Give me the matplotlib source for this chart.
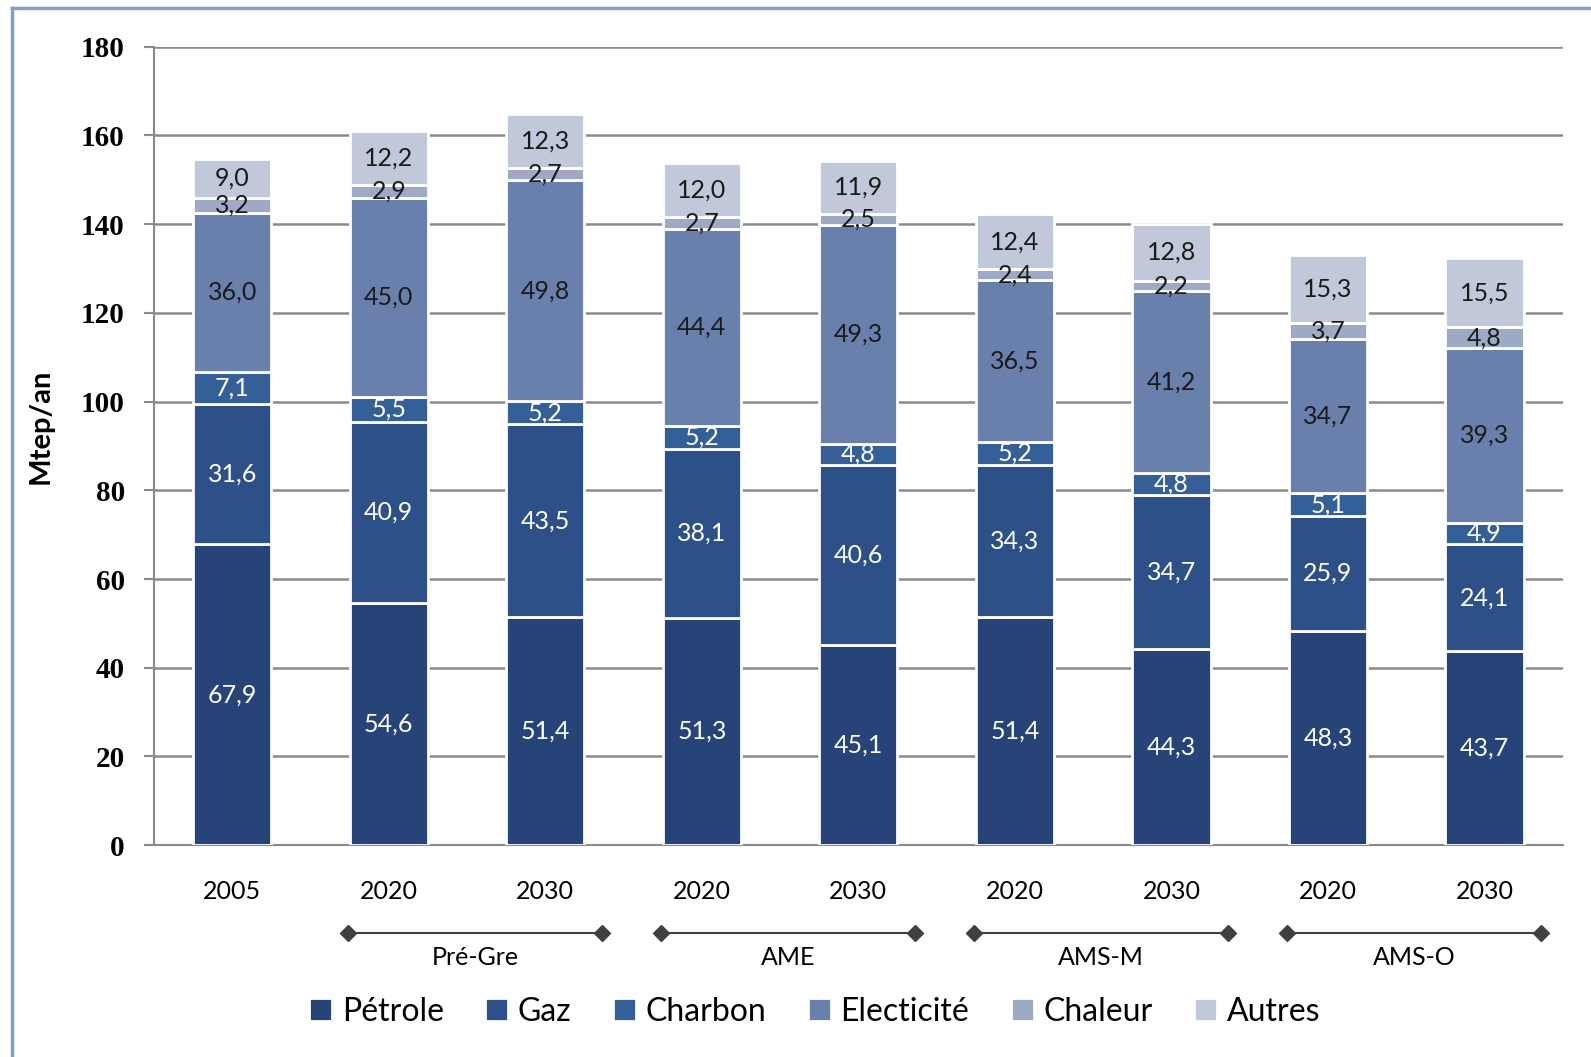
import matplotlib
matplotlib.use("Agg")
import matplotlib.pyplot as plt
from matplotlib.lines import Line2D
import numpy as np

plt.rcParams['font.family'] = ['Lato', 'DejaVu Sans']

years = ["2005", "2020", "2030", "2020", "2030", "2020", "2030", "2020", "2030"]
groups = ["Pré-Gre", "AME", "AMS-M", "AMS-O"]
group_bars = [(1, 2), (3, 4), (5, 6), (7, 8)]
series = ["Pétrole", "Gaz", "Charbon", "Electicité", "Chaleur", "Autres"]
petrole = [67.9, 54.6, 51.4, 51.3, 45.1, 51.4, 44.3, 48.3, 43.7]
gaz = [31.6, 40.9, 43.5, 38.1, 40.6, 34.3, 34.7, 25.9, 24.1]
charbon = [7.1, 5.5, 5.2, 5.2, 4.8, 5.2, 4.8, 5.1, 4.9]
electricite = [36.0, 45.0, 49.8, 44.4, 49.3, 36.5, 41.2, 34.7, 39.3]
chaleur = [3.2, 2.9, 2.7, 2.7, 2.5, 2.4, 2.2, 3.7, 4.8]
autres = [9.0, 12.2, 12.3, 12.0, 11.9, 12.4, 12.8, 15.3, 15.5]
data = [petrole, gaz, charbon, electricite, chaleur, autres]
colors = ["#264478", "#2E5088", "#355F97", "#6980AC", "#9EA9C6", "#C1C8D9"]
text_colors = ["white", "white", "white", "#1a1a1a", "#1a1a1a", "#1a1a1a"]

fig = plt.figure(figsize=(15.91, 10.57), dpi=100)
ax = fig.add_axes([0.0968, 0.2004, 0.8854, 0.7554])

x = np.arange(len(years))
bottom = np.zeros(len(years))
handles = []
for vals, col, tc, name in zip(data, colors, text_colors, series):
    vals = np.array(vals)
    b = ax.bar(x, vals, width=0.5, bottom=bottom, color=col, edgecolor="white",
               linewidth=2, zorder=3, label=name)
    handles.append(b)
    for xi, v, bt in zip(x, vals, bottom):
        ax.text(xi, bt + v / 2, f"{v:.1f}".replace(".", ","), ha="center", va="center",
                color=tc, fontsize=18, zorder=4)
    bottom += vals

ax.set_xlim(-0.5, len(years) - 0.5)
ax.set_ylim(0, 180)
ax.set_yticks(np.arange(0, 181, 20))
ax.yaxis.grid(True, color="#8a8a8a", linewidth=1.8, zorder=0)
ax.set_axisbelow(True)
for s in ["top", "right"]:
    ax.spines[s].set_visible(False)
ax.spines["left"].set_color("#8a8a8a")
ax.spines["left"].set_linewidth(1.5)
ax.spines["bottom"].set_color("#8a8a8a")
ax.spines["bottom"].set_linewidth(1.5)
ax.tick_params(axis="y", direction="out", length=7, width=1.5, color="#8a8a8a",
               pad=14)
for lab in ax.get_yticklabels():
    lab.set_fontfamily("Liberation Serif")
    lab.set_fontsize(21)
    lab.set_fontweight("bold")
ax.set_xticks(x)
ax.set_xticklabels(years, fontsize=18)
ax.tick_params(axis="x", length=0, pad=25)
ax.set_ylabel("Mtep/an", fontsize=21, fontweight="bold")
ax.yaxis.set_label_coords(-0.071, 0.525)

# group brackets
for (i0, i1), g in zip(group_bars, groups):
    xs = [i0 - 0.26, i1 + 0.36]
    ln = Line2D(xs, [-0.1106, -0.1106], transform=ax.get_xaxis_transform(),
                color="#404040", linewidth=1.5, marker="D", markersize=8,
                markerfacecolor="#404040", markeredgecolor="#404040", clip_on=False)
    ax.add_line(ln)
    ax.text(np.mean(xs), -0.141, g, transform=ax.get_xaxis_transform(),
            ha="center", va="center", fontsize=18)

leg = fig.legend(handles=handles, labels=series, loc="center", ncol=6,
                 bbox_to_anchor=(0.512, 0.043), frameon=False, fontsize=23,
                 handlelength=0.72, handleheight=0.72, handletextpad=0.3,
                 columnspacing=1.3)

# blue frame
fig.add_artist(Line2D([12 / 1591, 12 / 1591], [0, 1 - 8 / 1057], transform=fig.transFigure,
                      color="#7F9FD0", linewidth=2.5))
fig.add_artist(Line2D([12 / 1591, 1], [1 - 8 / 1057, 1 - 8 / 1057], transform=fig.transFigure,
                      color="#7F9FD0", linewidth=2.5))

fig.savefig("out.png", dpi=100)
